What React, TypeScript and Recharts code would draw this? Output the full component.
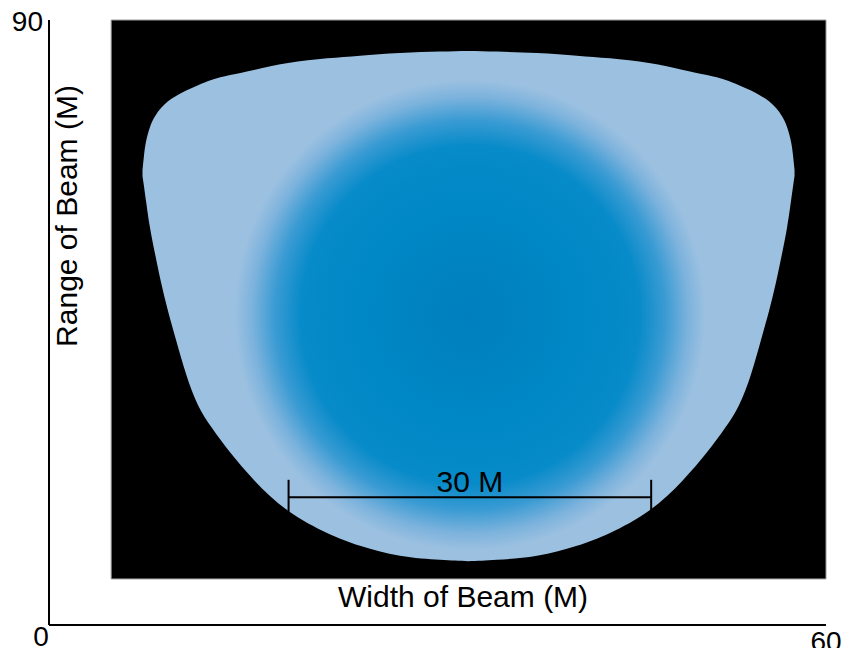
import React from "react";
import { Area, ComposedChart, ReferenceArea, ReferenceLine, XAxis, YAxis } from "recharts";

// beam outline, sampled across the width (metres)
const beamWidth = [
  7.22, 7.34, 7.49, 7.8, 8.19, 8.65, 9.19, 9.81, 10.59, 11.51, 12.59, 13.98, 15.91, 18.46, 21.47, 24.02, 27.1, 30.19,
  32.39,
  34.59, 37.68, 40.77, 43.32, 46.33, 48.88, 50.81, 52.2, 53.28, 54.21, 54.98, 55.6, 56.14, 56.6, 56.99, 57.3, 57.45, 57.57,
];
const beamFar = [
  67.7, 69.9, 71.9, 74.1, 75.7, 76.9, 77.9, 78.7, 79.5, 80.3, 81.1, 81.8, 82.6, 83.6, 84.3, 84.7, 85.1, 85.3,
  85.4,
  85.3, 85.1, 84.7, 84.3, 83.6, 82.6, 81.8, 81.1, 80.3, 79.5, 78.7, 77.9, 76.9, 75.7, 74.1, 71.9, 69.9, 67.7,
];
const beamNear = [
  66.8, 65.2, 63.1, 59.1, 55.2, 51.0, 46.7, 42.4, 37.3, 32.7, 29.3, 25.7, 21.4, 17.0, 13.7, 11.8, 10.3, 9.7,
  9.5,
  9.7, 10.3, 11.8, 13.7, 17.0, 21.4, 25.7, 29.3, 32.7, 37.3, 42.4, 46.7, 51.0, 55.2, 59.1, 63.1, 65.2, 66.8,
];

// dark backdrop behind the beam
const backdropX = [4.8, 60];
const backdropY = [6.85, 90];

// "30 M" scale bar
const scaleBarX = [18.5, 46.5];
const scaleBarY = 19;
const scaleTickY = [16.5, 21.6];

const xTicks = [0, 60];
const yTicks = [90];

const beamData = beamWidth.map((x, i) => ({ x, beam: [beamNear[i], beamFar[i]] }));

const FONT = "'Liberation Sans', Arial, sans-serif";

function XTick({ x, y, payload }: any) {
  const first = payload.value === 0;
  return (
    <text x={x + (first ? -8 : 0)} y={y + (first ? 21 : 26)} textAnchor="middle" fontSize={28} fontFamily={FONT} fill="#000">
      {payload.value}
    </text>
  );
}

function YTick({ x, y, payload }: any) {
  return (
    <text x={x - 6} y={y + 11} textAnchor="end" fontSize={28} fontFamily={FONT} fill="#000">
      {payload.value}
    </text>
  );
}

export default function App() {
  return (
    <div style={{ width: 851, height: 648, marginTop: -8 }}>
      <ComposedChart
        width={851}
        height={656}
        data={beamData}
        margin={{ top: 20, right: 33, bottom: 0, left: 0 }}
      >
        <defs>
          <radialGradient id="beamGlow" gradientUnits="userSpaceOnUse" cx={462} cy={315} r={235}>
            <stop offset="0" stopColor="#007FBD" />
            <stop offset="0.45" stopColor="#0087C5" />
            <stop offset="0.72" stopColor="#078BC9" />
            <stop offset="0.83" stopColor="#3A9BD3" />
            <stop offset="0.93" stopColor="#7DB3DD" />
            <stop offset="1" stopColor="#9BC0E0" />
          </radialGradient>
        </defs>
        <XAxis
          type="number"
          dataKey="x"
          domain={[0, 60]}
          ticks={xTicks}
          height={31}
          tickSize={0}
          tickMargin={0}
          tickLine={false}
          axisLine={{ stroke: "#000", strokeWidth: 2 }}
          tick={<XTick />}
          interval={0}
        />
        <YAxis
          type="number"
          domain={[0, 90]}
          ticks={yTicks}
          width={41}
          tickSize={0}
          tickMargin={0}
          tickLine={false}
          axisLine={{ stroke: "#000", strokeWidth: 2 }}
          tick={<YTick />}
          interval={0}
          label={{
            value: "Range of Beam (M)",
            content: (props: any) => {
              const vb = props.viewBox;
              const bx = vb.x + vb.width + 28;
              const cy = vb.y + 196;
              return (
                <text x={bx} y={cy} transform={`rotate(-90 ${bx} ${cy})`} textAnchor="middle" fontSize={30} fontFamily={FONT} fill="#000">
                  Range of Beam (M)
                </text>
              );
            },
          }}
        />
        <ReferenceArea
          x1={backdropX[0]}
          x2={backdropX[1]}
          y1={backdropY[0]}
          y2={backdropY[1]}
          fill="#000"
          fillOpacity={1}
          stroke="#9a9a9a"
          strokeWidth={1}
          zIndex={-10}
          label={{
            value: "Width of Beam (M)",
            content: (props: any) => {
              const vb = props.viewBox;
              return (
                <text x={vb.x + vb.width / 2 - 5.5} y={vb.y + vb.height + 28} textAnchor="middle" fontSize={30} fontFamily={FONT} fill="#000">
                  Width of Beam (M)
                </text>
              );
            },
          }}
        />
        <Area
          type="natural"
          dataKey="beam"
          stroke="none"
          fill="url(#beamGlow)"
          fillOpacity={1}
          isAnimationActive={false}
          activeDot={false}
          dot={false}
        />
        <ReferenceLine
          segment={[
            { x: scaleBarX[0], y: scaleBarY },
            { x: scaleBarX[1], y: scaleBarY },
          ]}
          stroke="#000"
          strokeWidth={2}
          zIndex={1000}
          label={{ value: "30 M", position: "top", offset: 5, fontSize: 30, fontFamily: FONT, fill: "#000" }}
        />
        {scaleBarX.map((x) => (
          <ReferenceLine
            key={x}
            segment={[
              { x, y: scaleTickY[0] },
              { x, y: scaleTickY[1] },
            ]}
            stroke="#000"
            strokeWidth={2}
            zIndex={1000}
          />
        ))}
      </ComposedChart>
    </div>
  );
}
